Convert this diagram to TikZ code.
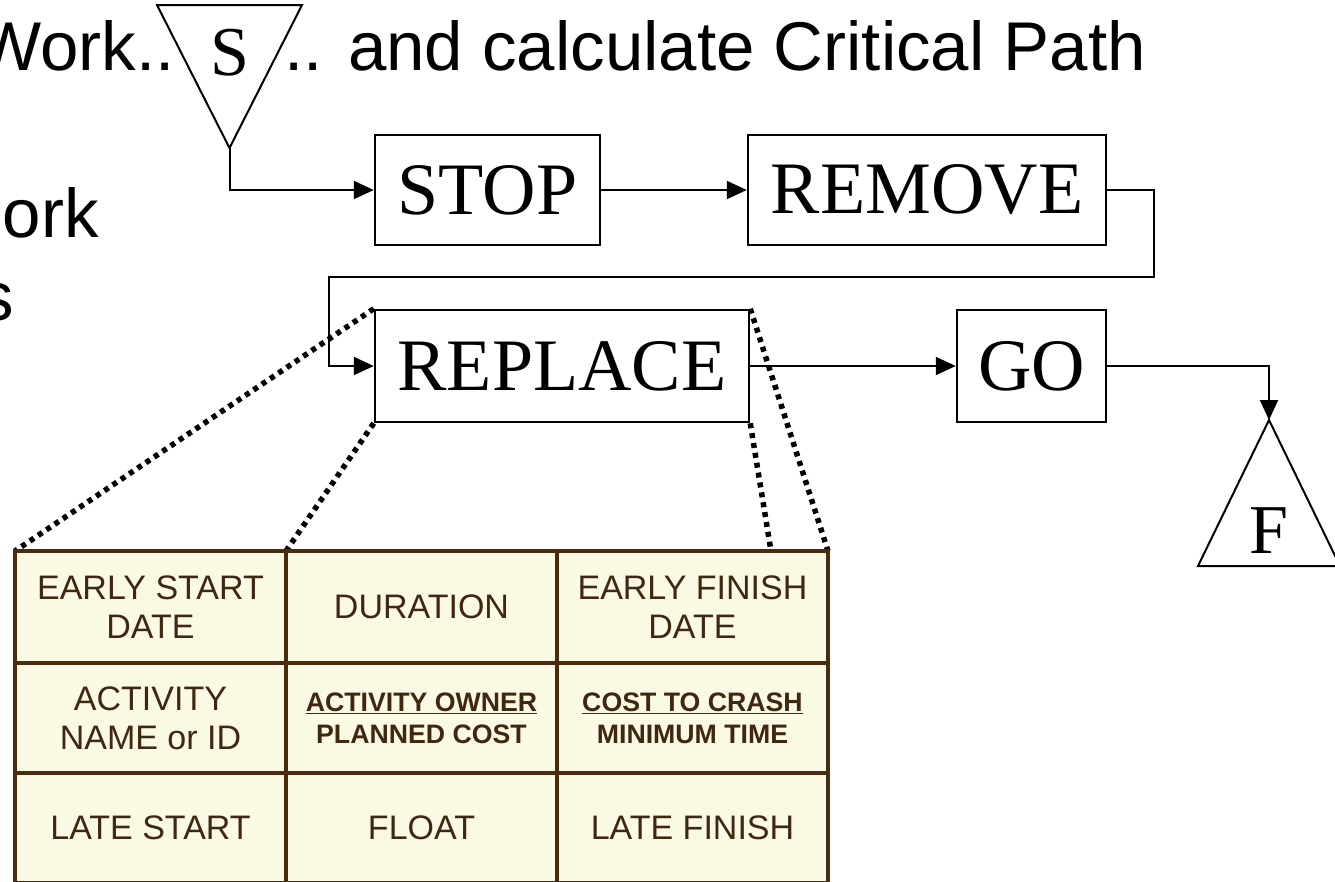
\documentclass[tikz,border=0pt]{standalone}
\usepackage{fontspec}
\setmainfont{Liberation Sans}
\newfontfamily\timesfont{Liberation Serif}
\usetikzlibrary{arrows.meta}
\definecolor{brownline}{HTML}{4A2B0C}
\definecolor{cellfill}{HTML}{FAF9E4}
\definecolor{celltext}{HTML}{3F2810}
\begin{document}
\begin{tikzpicture}[x=1pt,y=-1pt,
  box/.style={draw, line width=2.5pt, fill=white, inner sep=0pt,
    font=\timesfont\fontsize{74}{80}\selectfont},
  flow/.style={line width=2pt, -{Triangle[length=20pt,width=18pt]}},
  zoomline/.style={line width=5.5pt, dash pattern=on 5pt off 5pt},
  title/.style={inner sep=0pt, font=\fontsize{69}{80}\selectfont},
  cell/.style={draw=brownline, line width=4pt, fill=cellfill, inner sep=0pt,
    minimum width=271pt, text=celltext, align=center,
    font=\fontsize{34}{39}\selectfont},
  boldcell/.style={cell, font=\fontsize{26.7}{32}\selectfont\bfseries},
  endletter/.style={inner sep=0pt, font=\timesfont\fontsize{70}{80}\selectfont}]
\useasboundingbox (0,0) rectangle (1335,881);
\clip (0,0) rectangle (1335,881);

% heading and side text
\node[title, anchor=base east] (t1) at (175,70) {Work..};
\node[title, anchor=base west] (t2) at (284,70) {.. and calculate Critical Path};
\node[title, anchor=base east] (t3) at (99,237) {ork};
\node[title, anchor=base east] (t4) at (14,320) {s};

% start and finish markers
\draw[line width=2pt, fill=white] (157,5) -- (302,5) -- (229.5,148) -- cycle;
\coordinate (sApex) at (229.5,148);
\node[endletter, anchor=base] (s) at (229.5,75) {S};
\draw[line width=2pt, fill=white] (1269,420) -- (1340,566) -- (1198,566) -- cycle;
\coordinate (fApex) at (1269,420);
\node[endletter, anchor=base] (f) at (1269,553) {F};

% activity boxes
\node[box, minimum width=225pt, minimum height=110pt] (stop) at (487.5,190) {STOP};
\node[box, minimum width=358pt, minimum height=110pt] (remove) at (927,190) {REMOVE};
\node[box, minimum width=374pt, minimum height=112pt] (replace) at (562,366) {REPLACE};
\node[box, minimum width=149pt, minimum height=112pt] (go) at (1031.5,366) {GO};

% precedence links
\coordinate (k1) at (1154,277);
\coordinate (k2) at (329,277);
\draw[flow] (sApex) |- (stop.west);
\draw[flow] (stop.east) -- (remove.west);
\draw[flow] (remove.east) -| (k1) -- (k2) |- (replace.west);
\draw[flow] (replace.east) -- (go.west);
\draw[flow] (go.east) -| (fApex);

% zoom-in lines to the activity card
\coordinate (tabmark) at (771,551);
\draw[zoomline] (replace.north west) -- (15,551);
\draw[zoomline] (replace.south west) -- (286,551);
\draw[zoomline] (replace.north east) -- (828,551);
\draw[zoomline] (replace.south east) -- (tabmark);

% activity card
\node[cell, minimum height=112pt] (c11) at (150.5,607) {EARLY START\\DATE};
\node[cell, minimum height=112pt] (c12) at (421.5,607) {DURATION};
\node[cell, minimum height=112pt] (c13) at (692.5,607) {EARLY FINISH\\DATE};
\node[cell, minimum height=110pt] (c21) at (150.5,718) {ACTIVITY\\NAME or ID};
\node[boldcell, minimum height=110pt] (c22) at (421.5,718) {\underline{ACTIVITY OWNER}\\PLANNED COST};
\node[boldcell, minimum height=110pt] (c23) at (692.5,718) {\underline{COST TO CRASH}\\MINIMUM TIME};
\node[cell, minimum height=110pt] (c31) at (150.5,828) {LATE START};
\node[cell, minimum height=110pt] (c32) at (421.5,828) {FLOAT};
\node[cell, minimum height=110pt] (c33) at (692.5,828) {LATE FINISH};
\end{tikzpicture}
\end{document}
